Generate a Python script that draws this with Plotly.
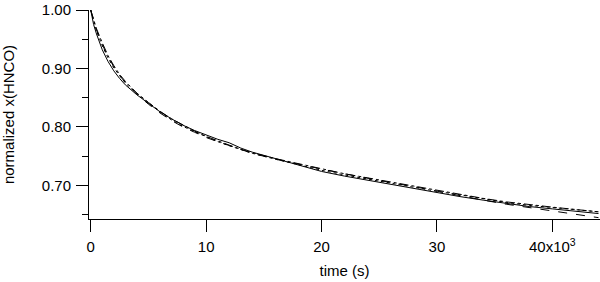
import plotly.graph_objects as go

# time in units of 10^3 s
time_k = [0, 0.25, 0.5, 1, 1.5, 2, 2.5, 3, 4, 5, 6, 7, 8, 9, 10, 11, 12, 13, 14, 16, 18,
          20, 22, 24, 26, 28, 30, 32, 34, 36, 38, 40, 42, 44]

run_solid = [1.000, 0.975, 0.959, 0.932, 0.912, 0.896, 0.883, 0.872, 0.855, 0.840,
             0.826, 0.814, 0.803, 0.794, 0.786, 0.779, 0.773, 0.764, 0.757, 0.746,
             0.735, 0.724, 0.716, 0.709, 0.702, 0.694, 0.688, 0.681, 0.675, 0.669,
             0.664, 0.660, 0.656, 0.652]
run_dash = [1.000, 0.981, 0.966, 0.941, 0.920, 0.903, 0.888, 0.876, 0.856, 0.839,
            0.824, 0.811, 0.800, 0.791, 0.782, 0.775, 0.768, 0.761, 0.755, 0.745,
            0.736, 0.728, 0.720, 0.712, 0.705, 0.698, 0.690, 0.683, 0.675, 0.668,
            0.662, 0.656, 0.650, 0.645]
run_dot = [1.000, 0.980, 0.964, 0.939, 0.918, 0.901, 0.887, 0.875, 0.857, 0.841,
           0.826, 0.812, 0.801, 0.792, 0.783, 0.775, 0.768, 0.761, 0.755, 0.745,
           0.735, 0.726, 0.718, 0.711, 0.703, 0.697, 0.690, 0.684, 0.677, 0.671,
           0.666, 0.662, 0.658, 0.655]
run_dashdot = [1.000, 0.982, 0.968, 0.944, 0.922, 0.905, 0.890, 0.878, 0.858, 0.842,
               0.827, 0.814, 0.803, 0.793, 0.784, 0.776, 0.769, 0.762, 0.756, 0.746,
               0.737, 0.728, 0.720, 0.713, 0.706, 0.699, 0.691, 0.685, 0.678, 0.672,
               0.667, 0.663, 0.659, 0.655]

x_tickvals = [0, 10000, 20000, 30000, 40000]
x_ticktext = ["0", "10", "20", "30", "40x10<sup>3</sup>"]
y_tickvals = [0.70, 0.80, 0.90, 1.00]
y_ticktext = ["0.70", "0.80", "0.90", "1.00"]

t_s = [t * 1000 for t in time_k]

fig = go.Figure()
for ys, dash in [(run_solid, "solid"), (run_dash, "dash"),
                 (run_dot, "dot"), (run_dashdot, "dashdot")]:
    fig.add_trace(go.Scatter(x=t_s, y=ys, mode="lines",
                             line=dict(color="black", width=1, dash=dash),
                             showlegend=False, hoverinfo="skip"))

font = dict(family="Liberation Sans, Arial, sans-serif", size=15, color="black")

fig.update_layout(
    width=600, height=282,
    margin=dict(l=89, r=0, t=10, b=63),
    paper_bgcolor="white", plot_bgcolor="white",
    font=font,
    xaxis=dict(range=[-150, 44130], tickvals=x_tickvals, ticktext=x_ticktext,
               ticks="outside", ticklen=12, tickcolor="black", tickwidth=1,
               ticklabelstandoff=2,
               showline=True, linecolor="black", linewidth=1,
               showgrid=False, zeroline=False, automargin=False,
               title=dict(text="time (s)", standoff=11, font=font),
               tickfont=font),
    yaxis=dict(range=[0.6427, 1.0], tickvals=y_tickvals, ticktext=y_ticktext,
               ticks="outside", ticklen=12, tickcolor="black", tickwidth=1,
               ticklabelstandoff=2,
               minor=dict(tickvals=[0.65, 0.75, 0.85, 0.95], ticks="outside",
                          ticklen=6, tickcolor="black", tickwidth=1, showgrid=False),
               showline=True, linecolor="black", linewidth=1,
               showgrid=False, zeroline=False, automargin=False,
               title=dict(text="normalized x(HNCO)", standoff=23, font=font),
               tickfont=font),
)

fig.write_html("out.html", config={"displayModeBar": False},
               post_script="document.body.style.margin='0px';document.body.style.overflow='hidden';")
